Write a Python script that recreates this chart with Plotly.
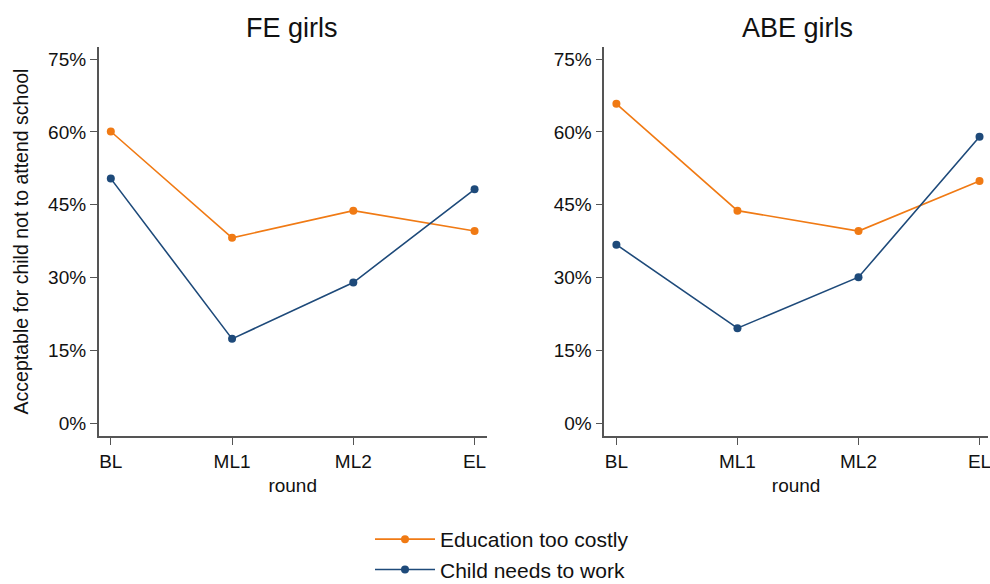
import plotly.graph_objects as go

rounds = ["BL", "ML1", "ML2", "EL"]
panels = ["FE girls", "ABE girls"]
series_names = ["Education too costly", "Child needs to work"]
fe_costly = [60.1, 38.2, 43.8, 39.6]
fe_work = [50.4, 17.4, 29.0, 48.2]
abe_costly = [65.8, 43.8, 39.6, 49.9]
abe_work = [36.8, 19.6, 30.1, 59.0]
y_ticks = [0, 15, 30, 45, 60, 75]
y_ticklabels = ["0%", "15%", "30%", "45%", "60%", "75%"]

colors = ["#F07A14", "#1E4A7A"]
font = "Liberation Sans, Arial, sans-serif"
W, H = 990, 584


def px(xs_):
    return xs_ / W


def py(ys_):
    return 1 - ys_ / H


fig = go.Figure()
xs = list(range(len(rounds)))
data = [(fe_costly, fe_work), (abe_costly, abe_work)]
for p, (costly, work) in enumerate(data):
    xa = "x" if p == 0 else "x2"
    ya = "y" if p == 0 else "y2"
    for s, vals in enumerate([costly, work]):
        fig.add_trace(go.Scatter(
            x=xs, y=vals, mode="lines+markers", name=series_names[s],
            line=dict(color=colors[s], width=1.6),
            marker=dict(color=colors[s], size=8),
            xaxis=xa, yaxis=ya, showlegend=(p == 0)))

axis_common = dict(showline=True, linecolor="#555555", linewidth=1.5,
                   ticks="outside", ticklen=7, tickcolor="#555555", tickwidth=1.2,
                   showgrid=False, zeroline=False, automargin=False,
                   ticklabeloverflow="allow",
                   tickfont=dict(family=font, size=19, color="#111111"))

ydom = [py(436), py(47)]
fig.update_layout(
    width=W, height=H,
    margin=dict(l=0, r=0, t=0, b=0, autoexpand=False),
    paper_bgcolor="white", plot_bgcolor="white",
    font=dict(family=font, color="#111111"),
    xaxis=dict(domain=[px(98.7), px(486.7)], range=[-0.1, 3.1], tickvals=xs, ticktext=rounds,
               title=dict(text="round", font=dict(size=19), standoff=8), anchor="y", **axis_common),
    xaxis2=dict(domain=[px(604.3), px(988)], range=[-0.1, 3.07], tickvals=xs, ticktext=rounds,
                title=dict(text="round", font=dict(size=19), standoff=8), anchor="y2", **axis_common),
    yaxis=dict(domain=ydom, range=[-2.6, 77.5], tickvals=y_ticks, ticktext=y_ticklabels,
               title=dict(text="Acceptable for child not to attend school", font=dict(size=19.5), standoff=14),
               anchor="x", **axis_common),
    yaxis2=dict(domain=ydom, range=[-2.6, 77.5], tickvals=y_ticks, ticktext=y_ticklabels,
                anchor="x2", **axis_common),
    legend=dict(x=px(502), xanchor="center", y=py(554.5), yanchor="middle",
                font=dict(family=font, size=21, color="#111111"),
                itemwidth=60, tracegroupgap=0),
)
for name, cx in zip(panels, [292, 797]):
    fig.add_annotation(text=name, x=px(cx), y=py(28), xref="paper", yref="paper",
                       showarrow=False, font=dict(family=font, size=27, color="#111111"),
                       xanchor="center", yanchor="middle")

fig.write_html("out.html", config={"displayModeBar": False},
               post_script="document.body.style.margin='0';document.body.style.overflow='hidden';")
